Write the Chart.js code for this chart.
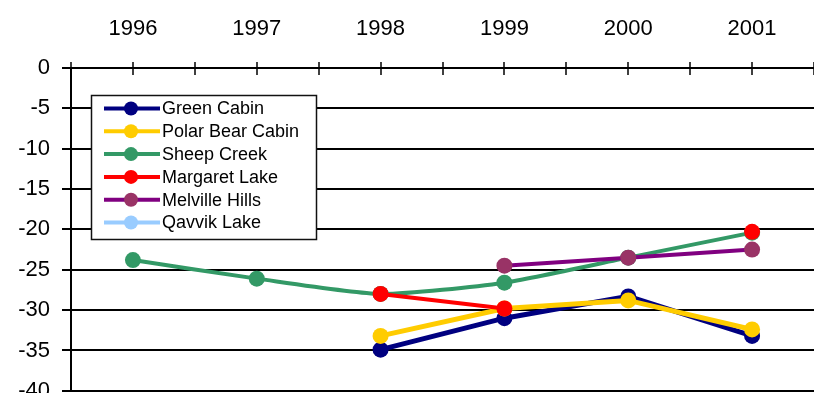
<!DOCTYPE html>
<html>
<head>
<meta charset="utf-8">
<script src="https://cdn.jsdelivr.net/npm/chart.js@4/dist/chart.umd.min.js"></script>
<style>
    html, body { margin: 0; padding: 0; background: #fff; overflow: hidden; }
    #wrap { width: 814px; height: 393px; overflow: hidden; }
    canvas { display: block; }
</style>
</head>
<body>
<div id="wrap"><canvas id="chart" width="822" height="416"></canvas></div>
<script>
const years = [1996, 1997, 1998, 1999, 2000, 2001];
const yTicks = [0, -5, -10, -15, -20, -25, -30, -35, -40];

const seriesNames = ['Green Cabin', 'Polar Bear Cabin', 'Sheep Creek', 'Margaret Lake', 'Melville Hills', 'Qavvik Lake'];
const greenCabin = [null, null, -34.9, -31.0, -28.3, -33.2];
const polarBearCabin = [null, null, -33.2, -29.8, -28.8, -32.4];
const sheepCreek = [-23.8, -26.1, -28.0, -26.6, -23.5, -20.4];
const margaretLake = [null, null, -28.0, -29.8, null, -20.3];
const melvilleHills = [null, null, null, -24.5, -23.5, -22.5];
const qavvikLake = [null, null, null, null, null, null];

const lineColors = ['#000080', '#FFCC00', '#339966', '#FF0000', '#800080', '#99CCFF'];
const dotColors = ['#000080', '#FFCC00', '#339966', '#FF0000', '#993366', '#99CCFF'];

const allSeries = [greenCabin, polarBearCabin, sheepCreek, margaretLake, melvilleHills, qavvikLake];

const FONT = '"Liberation Sans", Arial, sans-serif';

const datasets = allSeries.map((vals, i) => ({
    label: seriesNames[i],
    data: vals.map((v, j) => ({ x: years[j], y: v })),
    borderColor: lineColors[i],
    backgroundColor: dotColors[i],
    pointBackgroundColor: dotColors[i],
    pointBorderColor: dotColors[i],
    pointRadius: 8,
    pointBorderWidth: 0,
    borderWidth: i < 2 ? 5 : 4,
    tension: i === 2 ? 0.2 : 0,
    spanGaps: false,
    order: allSeries.length - i
}));

// tick marks crossing the top axis, and the legend box
const extras = {
    id: 'extras',
    afterDatasetsDraw(chart) {
        const ctx = chart.ctx;
        const xs = chart.scales.x;
        const top = chart.chartArea.top;
        ctx.save();
        ctx.strokeStyle = '#000';
        ctx.lineWidth = 1.5;
        for (let v = 1995.5; v <= 2001.5; v += 0.5) {
            const px = Math.round(xs.getPixelForValue(v));
            ctx.beginPath();
            ctx.moveTo(px, top - 6);
            ctx.lineTo(px, top + 7);
            ctx.stroke();
        }

        // legend
        const bx = 91, by = 95, bw = 225, bh = 144;
        ctx.fillStyle = '#fff';
        ctx.fillRect(bx, by, bw, bh);
        ctx.lineWidth = 1.5;
        ctx.strokeStyle = '#111';
        ctx.strokeRect(bx + 0.5, by + 0.5, bw, bh);
        ctx.font = '18px ' + FONT;
        ctx.textBaseline = 'middle';
        seriesNames.forEach((name, i) => {
            const cy = by + 13.5 + i * 22.8;
            ctx.strokeStyle = lineColors[i];
            ctx.lineWidth = 4;
            ctx.beginPath();
            ctx.moveTo(104, cy);
            ctx.lineTo(160, cy);
            ctx.stroke();
            ctx.fillStyle = dotColors[i];
            ctx.beginPath();
            ctx.arc(131, cy, 7, 0, Math.PI * 2);
            ctx.fill();
            ctx.fillStyle = '#000';
            ctx.fillText(name, 162, cy + 1);
        });
        ctx.restore();
    }
};

new Chart(document.getElementById('chart'), {
    type: 'line',
    data: { datasets },
    plugins: [extras],
    options: {
        responsive: false,
        animation: false,
        layout: { padding: { top: 0, right: 0, bottom: 1, left: 0 } },
        plugins: { legend: { display: false }, tooltip: { enabled: false } },
        scales: {
            x: {
                type: 'linear',
                position: 'top',
                min: 1995.5,
                max: 2001.5,
                afterBuildTicks: axis => { axis.ticks = years.map(v => ({ value: v })); },
                afterFit: axis => { axis.height = 68; },
                ticks: {
                    color: '#000',
                    font: { family: FONT, size: 22 },
                    padding: 26,
                    maxRotation: 0,
                    callback: v => String(v)
                },
                grid: { display: false, drawTicks: false },
                border: { display: true, color: '#000', width: 2 }
            },
            y: {
                min: -40,
                max: 0,
                afterBuildTicks: axis => { axis.ticks = yTicks.map(v => ({ value: v })); },
                afterFit: axis => { axis.width = 71; },
                ticks: {
                    color: '#000',
                    font: { family: FONT, size: 22 },
                    padding: 12
                },
                grid: { color: '#000', lineWidth: 2, tickLength: 9 },
                border: { display: true, color: '#000', width: 2 }
            }
        }
    }
});
</script>
</body>
</html>
